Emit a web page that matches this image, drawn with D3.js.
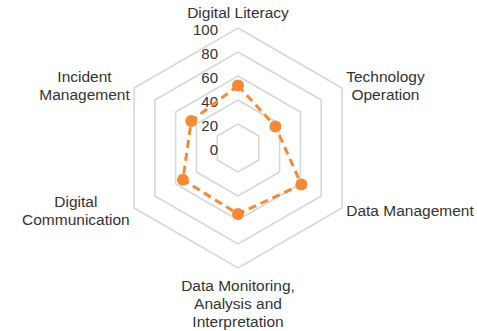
<!DOCTYPE html>
<html>
<head>
<meta charset="utf-8">
<script src="https://cdn.jsdelivr.net/npm/d3@7"></script>
<style>
  body { margin: 0; background: #fff; }
  svg { display: block; font-family: "Liberation Sans", Arial, sans-serif; }
</style>
</head>
<body>
<svg id="chart"></svg>
<script>
// chart data
const axes = [
  ["Digital Literacy"],
  ["Technology", "Operation"],
  ["Data Management"],
  ["Data Monitoring,", "Analysis and", "Interpretation"],
  ["Digital", "Communication"],
  ["Incident", "Management"]
];
const scores = [52, 36, 61, 55, 53, 45];
const ticks = [0, 20, 40, 60, 80, 100];

const width = 477, height = 331;
const cx = 238, cy = 148, radius = 120;
const orange = "#f58a36";

const svg = d3.select("#chart")
    .attr("width", width)
    .attr("height", height);

const r = d3.scaleLinear().domain([0, 100]).range([0, radius]);
const angle = i => -Math.PI / 2 + i * 2 * Math.PI / axes.length;
const pt = (i, v) => [cx + r(v) * Math.cos(angle(i)), cy + r(v) * Math.sin(angle(i))];

// grid rings (0 ring collapses to the center)
svg.append("g").selectAll("polygon")
    .data(ticks.filter(t => t > 0))
    .join("polygon")
    .attr("points", t => axes.map((a, i) => pt(i, t).join(",")).join(" "))
    .attr("fill", "none")
    .attr("stroke", "#d6d6d6")
    .attr("stroke-width", 1.5);

// tick labels
svg.append("g").selectAll("text")
    .data(ticks)
    .join("text")
    .attr("x", cx - 20)
    .attr("y", t => cy - r(t) + 1)
    .attr("text-anchor", "end")
    .attr("dominant-baseline", "central")
    .attr("font-size", 15)
    .attr("fill", "#333")
    .text(t => t);

// data line
const line = d3.line().curve(d3.curveLinearClosed);
svg.append("path")
    .attr("d", line(scores.map((v, i) => pt(i, v))))
    .attr("fill", "none")
    .attr("stroke", orange)
    .attr("stroke-width", 3)
    .attr("stroke-dasharray", "8,5");

svg.append("g").selectAll("circle")
    .data(scores)
    .join("circle")
    .attr("cx", (v, i) => pt(i, v)[0])
    .attr("cy", (v, i) => pt(i, v)[1])
    .attr("r", 6)
    .attr("fill", orange);

// axis labels
const lineH = 18;
const labels = svg.append("g").selectAll("text")
    .data(axes)
    .join("text")
    .attr("font-size", 15.5)
    .attr("fill", "#333")
    .attr("text-anchor", "middle");

labels.each(function(lines, i) {
  const t = d3.select(this);
  const spans = t.selectAll("tspan").data(lines).join("tspan").text(d => d);
  const widths = [];
  spans.each(function() { widths.push(this.getComputedTextLength()); });
  const blockW = d3.max(widths);
  const [ax, ay] = pt(i, 100 + 5 / radius * 100);
  const cos = Math.cos(angle(i));
  let x = ax;
  if (cos > 0.1) x = ax + blockW / 2;
  else if (cos < -0.1) x = ax - blockW / 2;
  let top;
  const sin = Math.sin(angle(i));
  if (sin < -0.9) top = ay - lines.length * lineH - 2;
  else if (sin > 0.9) top = ay + 3;
  else top = ay - lines.length * lineH / 2;
  spans.attr("x", x)
      .attr("y", (d, k) => top + k * lineH + lineH / 2)
      .attr("dominant-baseline", "central");
});
</script>
</body>
</html>
